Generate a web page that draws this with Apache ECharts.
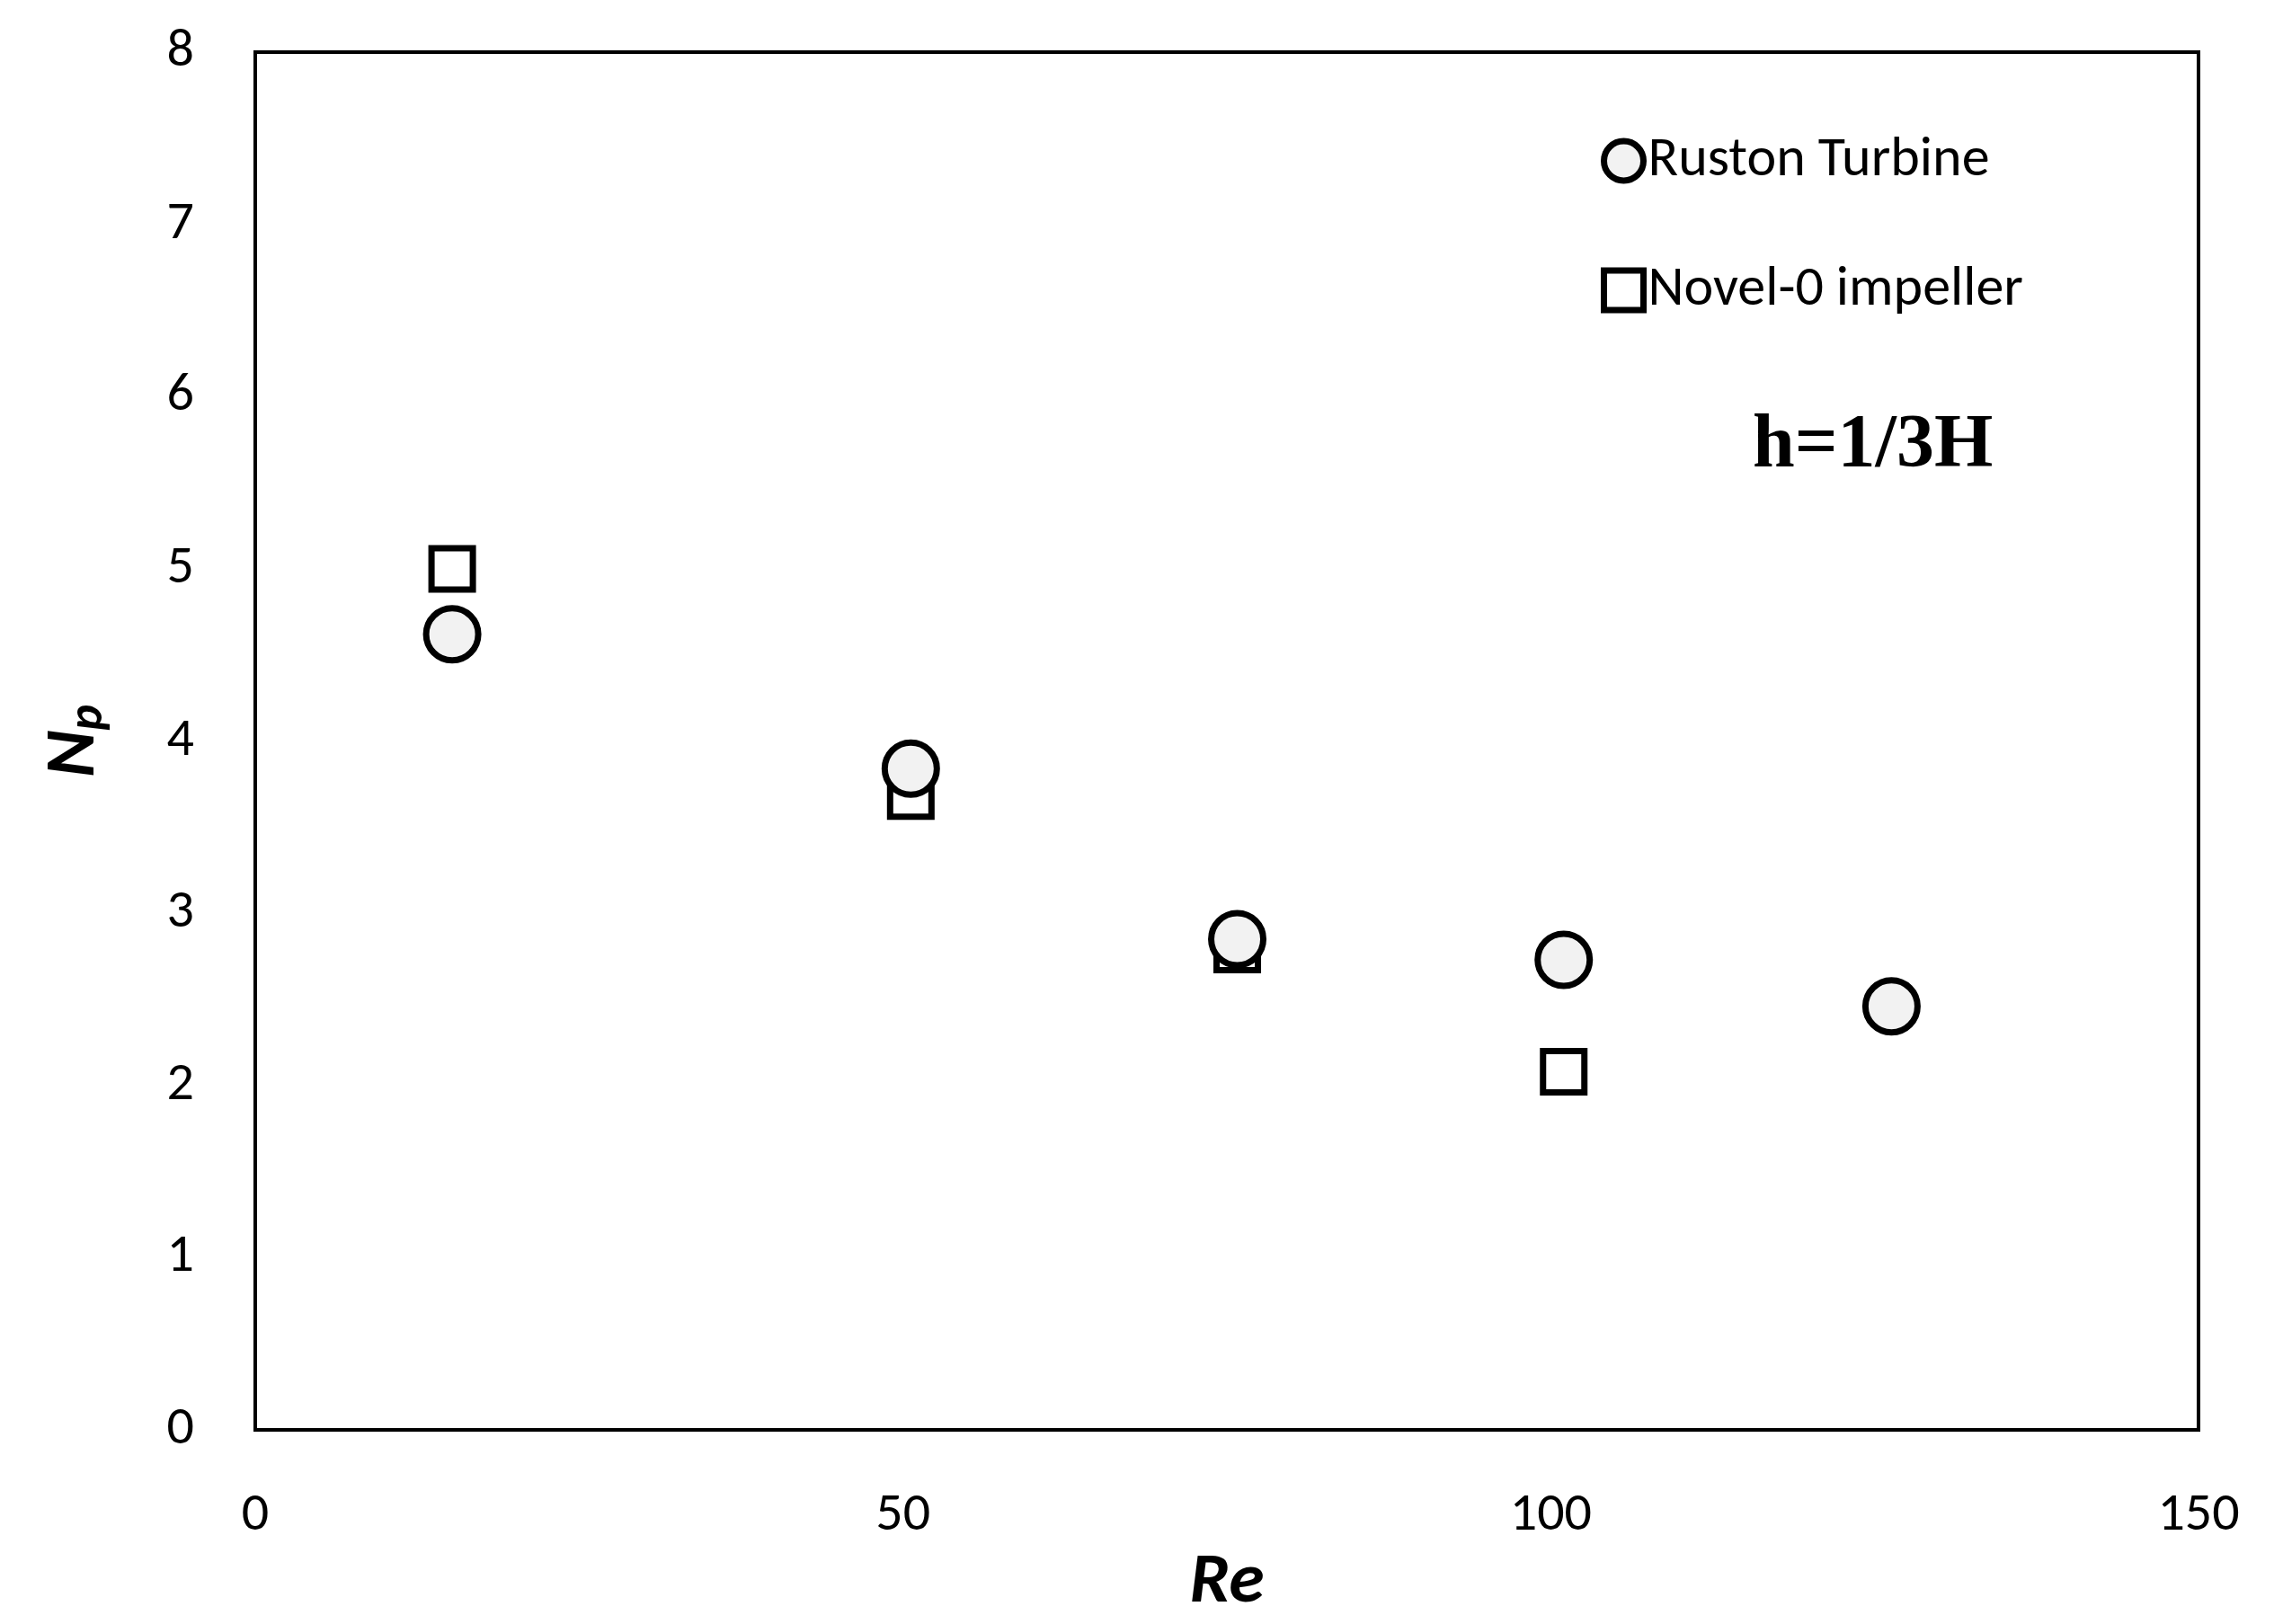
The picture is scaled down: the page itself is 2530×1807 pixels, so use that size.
<!DOCTYPE html>
<html><head><meta charset="utf-8">
<script src="https://cdn.jsdelivr.net/npm/echarts@6/dist/echarts.min.js"></script>
<style>html,body{margin:0;background:#fff}#c{width:2530px;height:1807px}</style>
</head><body><div id="c"></div>
<script>
const rustonRe = [15.2, 50.6, 75.8, 101.0, 126.3];
const rustonNp = [4.62, 3.84, 2.85, 2.73, 2.46];
const novelRe = [15.2, 50.6, 75.8, 101.0];
const novelNp = [5.00, 3.68, 2.79, 2.08];
const zip = (a, b) => a.map((v, i) => [v, b[i]]);
const chart = echarts.init(document.getElementById('c'));
const font = 'Calibri, Carlito, "Liberation Sans", "Open Sans", sans-serif';
chart.setOption({
  animation: false,
  backgroundColor: '#fff',
  grid: {left: 284, right: 84, top: 58, bottom: 206, show: true, borderColor: '#000', borderWidth: 4},
  xAxis: {type: 'value', min: 0, max: 150, interval: 50,
    axisLine: {show: true, lineStyle: {color: '#000', width: 4}}, axisTick: {show: false}, splitLine: {show: false},
    axisLabel: {fontSize: 60, color: '#000', fontFamily: font, margin: 66},
    name: 'Re', nameLocation: 'middle', nameGap: 106,
    nameTextStyle: {fontSize: 80, fontWeight: 'bold', fontStyle: 'italic', color: '#000', fontFamily: font}},
  yAxis: {type: 'value', min: 0, max: 8, interval: 1,
    axisLine: {show: true, lineStyle: {color: '#000', width: 4}}, axisTick: {show: false}, splitLine: {show: false},
    axisLabel: {fontSize: 60, color: '#000', fontFamily: font, margin: 68},
    name: '{a|N}{b|p}', nameLocation: 'middle', nameGap: 158, nameRotate: 90,
    nameTextStyle: {color: '#000', rich: {
      a: {fontSize: 80, fontWeight: 'bold', fontStyle: 'italic', fontFamily: font, color: '#000'},
      b: {fontSize: 54, fontWeight: 'bold', fontStyle: 'italic', fontFamily: font, color: '#000', padding: [30, 0, 0, 0]}}}},
  legend: {left: 1776, top: 143, orient: 'vertical', itemGap: 82, itemWidth: 44, itemHeight: 44,
    itemStyle: {borderColor: '#000', borderWidth: 7, opacity: 1},
    textStyle: {fontSize: 62, color: '#000', fontFamily: font, padding: [0, 0, 0, 0]},
    data: ['Ruston Turbine', 'Novel-0 impeller']},
  graphic: [{type: 'text', left: 1950, top: 455,
    style: {text: 'h=1/3H', font: 'bold 84px "Liberation Serif", "DejaVu Serif", serif', fill: '#000'}}],
  series: [
    {name: 'Novel-0 impeller', type: 'scatter', symbol: 'rect', symbolSize: 46, data: zip(novelRe, novelNp),
      itemStyle: {color: '#fff', borderColor: '#000', borderWidth: 7, opacity: 1}},
    {name: 'Ruston Turbine', type: 'scatter', symbol: 'circle', symbolSize: 58, data: zip(rustonRe, rustonNp),
      itemStyle: {color: '#f2f2f2', borderColor: '#000', borderWidth: 7, opacity: 1}}
  ]
});
</script></body></html>
